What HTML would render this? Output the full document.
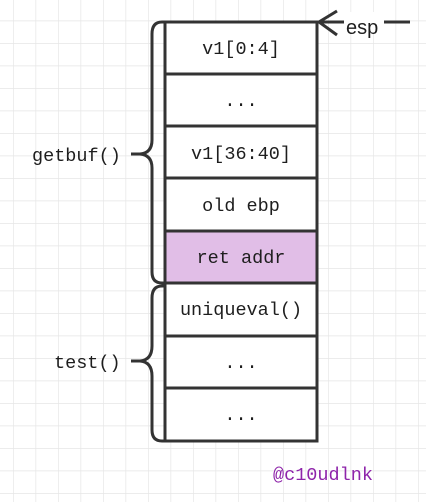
<!DOCTYPE html>
<html><head><meta charset="utf-8"><style>
html,body{margin:0;padding:0;width:426px;height:502px;overflow:hidden;background:#fff}
svg{display:block}
text{font-family:"Liberation Mono",monospace;font-size:18.5px;fill:#1e1e1e}
</style></head><body>
<svg width="426" height="502" viewBox="0 0 426 502">
<defs>
<pattern id="g" x="13" y="20.5" width="22.5" height="22.5" patternUnits="userSpaceOnUse">
<path d="M0 0H22.5M0 0V22.5" stroke="#e6e6e6" stroke-width="1.4" fill="none"/>
</pattern>
</defs>
<rect width="426" height="502" fill="url(#g)"/>
<rect x="165" y="22" width="152" height="419" fill="#fff"/>
<rect x="165" y="231" width="152" height="52" fill="#e1bee7"/>
<g stroke="#333" stroke-width="3" fill="none">
<rect x="165" y="22" width="152" height="419"/>
<path d="M165 74H317M165 126H317M165 178H317M165 231H317M165 283H317M165 336H317M165 388H317"/>
<path d="M165 22H162Q152 22 152 34V140Q152 153 140 154H131H140Q152 155 152 168V272Q152 283 162 283H165"/>
<path d="M165 286H162Q152 286 152 298V346Q152 360 140 361H131H140Q152 362 152 376V430Q152 441 162 441H165"/>
<path d="M319 22H410M337 11L319 22L337 35"/>
</g>
<rect x="344" y="12" width="40" height="22" fill="#fff"/>
<text x="346" y="34" style="font-family:'Liberation Sans',sans-serif;font-size:20px">esp</text>
<g text-anchor="middle">
<text x="241" y="54">v1[0:4]</text>
<text x="241" y="106">...</text>
<text x="241" y="159">v1[36:40]</text>
<text x="241" y="211">old ebp</text>
<text x="241" y="263">ret addr</text>
<text x="241" y="315">uniqueval()</text>
<text x="241" y="368">...</text>
<text x="241" y="420">...</text>
</g>
<text x="32" y="161">getbuf()</text>
<text x="54" y="368">test()</text>
<text x="273" y="480" style="fill:#8e24aa">@c10udlnk</text>
</svg>
</body></html>
